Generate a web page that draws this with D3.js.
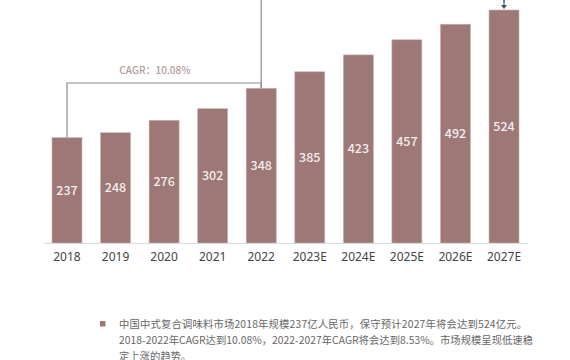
<!DOCTYPE html>
<html>
<head>
<meta charset="utf-8">
<script src="https://cdn.jsdelivr.net/npm/d3@7"></script>
<style>
  html, body { margin: 0; padding: 0; background: #fff; }
  svg { display: block; font-family: "Noto Sans CJK SC", "Noto Sans", sans-serif; }
</style>
</head>
<body>
<svg width="570" height="360"></svg>
<script>
// market size, 100m RMB
var years = ["2018", "2019", "2020", "2021", "2022", "2023E", "2024E", "2025E", "2026E", "2027E"];
var values = [237, 248, 276, 302, 348, 385, 423, 457, 492, 524];
var cagrLabel = "CAGR：10.08%";
var noteLines = [
  "中国中式复合调味料市场2018年规模237亿人民币，保守预计2027年将会达到524亿元。",
  "2018-2022年CAGR达到10.08%，2022-2027年CAGR将会达到8.53%。市场规模呈现低速稳",
  "定上涨的趋势。"
];
var noteWidths = [408, 414, null];

var svg = d3.select("svg"),
    barColor = "#9d7877";

var x = d3.scaleBand()
    .domain(years)
    .range([43, 528])
    .paddingInner(0.382)
    .paddingOuter(0.185);

var y = d3.scaleLinear()
    .domain([0, 524])
    .range([243, 10]);

var cx = function(d) { return x(d) + x.bandwidth() / 2; };

// bars
svg.append("g").selectAll("rect")
  .data(values)
  .enter().append("rect")
    .attr("x", function(d, i) { return x(years[i]); })
    .attr("y", function(d) { return y(d); })
    .attr("width", x.bandwidth())
    .attr("height", function(d) { return y(0) - y(d); })
    .attr("fill", barColor)
    .attr("stroke", "#c9b3b2")
    .attr("stroke-width", 0.6);

// value labels, centred in bar
svg.append("g").selectAll("text")
  .data(values)
  .enter().append("text")
    .attr("x", function(d, i) { return cx(years[i]); })
    .attr("y", function(d) { return (y(d) + y(0)) / 2; })
    .attr("dy", "0.35em")
    .attr("text-anchor", "middle")
    .attr("fill", "#f3eded")
    .style("font-size", "12.5px")
    .style("font-weight", 500)
    .text(function(d) { return d; });

// x axis
var xAxis = svg.append("g")
    .attr("transform", "translate(0," + y(0) + ")")
    .call(d3.axisBottom(x).tickSize(0).tickPadding(9));
xAxis.select(".domain").attr("stroke", "#d9d9d9").attr("stroke-width", 1);
xAxis.selectAll("text")
    .attr("fill", "#444")
    .style("font-size", "12px")
    .style("font-family", "'Noto Sans', sans-serif");

// CAGR bracket 2018 -> 2022
var bracketY = 83;
svg.append("path")
    .attr("d", "M" + cx("2018") + "," + y(values[0]) +
               "V" + bracketY + "H" + cx("2022") + "V" + y(values[4]))
    .attr("fill", "none")
    .attr("stroke", "#8a8a8a")
    .attr("stroke-width", 1.2);

// second bracket (mostly above the view) 2022 -> 2027E
svg.append("path")
    .attr("d", "M" + cx("2022") + "," + y(values[4]) + "V-6H" + cx("2027E") + "V2")
    .attr("fill", "none")
    .attr("stroke", "#8a8a8a")
    .attr("stroke-width", 1.2);

svg.append("line")
    .attr("x1", cx("2027E")).attr("x2", cx("2027E"))
    .attr("y1", 0).attr("y2", y(values[9]) - 4)
    .attr("stroke", "#3f5468")
    .attr("stroke-width", 1.2);
svg.append("path")
    .attr("d", "M" + (cx("2027E") - 3) + "," + (y(values[9]) - 5) +
               "L" + (cx("2027E") + 3) + "," + (y(values[9]) - 5) +
               "L" + cx("2027E") + "," + (y(values[9]) - 1) + "Z")
    .attr("fill", "#3f5468");

svg.append("text")
    .attr("x", 155)
    .attr("y", 70)
    .attr("dy", "0.35em")
    .attr("text-anchor", "middle")
    .attr("fill", "#b39a9b")
    .style("font-size", "10px")
    .style("font-weight", 500)
    .text(cagrLabel);

// footnote
svg.append("rect")
    .attr("x", 100).attr("y", 321)
    .attr("width", 5.5).attr("height", 5.5)
    .attr("fill", barColor);

svg.append("g").selectAll("text")
  .data(noteLines)
  .enter().append("text")
    .attr("x", 119)
    .attr("y", function(d, i) { return 324 + i * 16; })
    .attr("dy", "0.35em")
    .attr("fill", "#666")
    .style("font-size", "10.3px")
    .each(function(d, i) {
      if (noteWidths[i]) d3.select(this).attr("textLength", noteWidths[i]).attr("lengthAdjust", "spacing");
    })
    .text(function(d) { return d; });
</script>
</body>
</html>
